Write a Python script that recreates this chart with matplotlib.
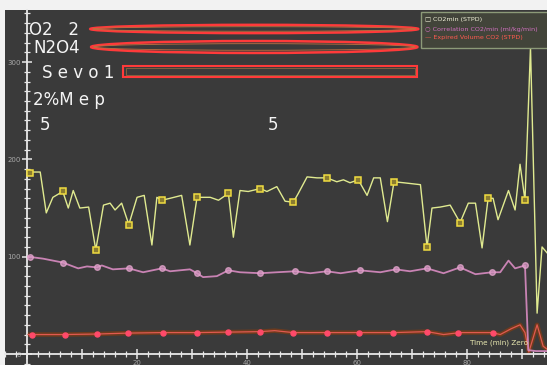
import matplotlib
matplotlib.use("Agg")
import matplotlib.pyplot as plt
from matplotlib.patches import Ellipse, Rectangle
from matplotlib.ticker import MultipleLocator, FuncFormatter

# ---------------- data ----------------
co2_t = [0.2, 2.4, 3.5, 4.7, 6.5, 7.5, 8.4, 9.6, 11.2, 12.5, 13.9, 15.1, 16.0, 17.2,
         18.5, 20.0, 21.3, 22.7, 23.6, 24.5, 26.0, 28.1, 29.6, 30.9, 33.3, 34.8,
         36.6, 37.5, 38.7, 40.2, 42.4, 43.6, 45.4, 46.9, 48.4, 49.3, 50.9, 52.7,
         54.5, 56.3, 57.5, 58.7, 60.2, 61.8, 63.0, 64.2, 65.5, 66.7, 68.4, 71.5,
         72.7, 73.6, 75.1, 76.9, 78.7, 80.2, 81.5, 82.7, 83.8, 84.7, 85.6, 87.5,
         88.7, 89.6, 90.5, 91.5, 92.7, 93.6, 94.5]
co2_v = [187, 187, 145, 161, 167, 150, 168, 150, 151, 107, 153, 155, 148, 155,
         133, 161, 163, 112, 161, 158, 160, 163, 112, 161, 161, 158,
         165, 120, 168, 167, 170, 167, 172, 157, 156, 165, 182, 181,
         181, 177, 179, 176, 179, 163, 181, 181, 136, 177, 176, 174,
         110, 150, 151, 153, 135, 155, 155, 109, 160, 160, 138, 168,
         148, 195, 158, 315, 42, 110, 104]
co2_mk_t = [0.5, 6.5, 12.5, 18.5, 24.5, 30.9, 36.6, 42.4, 48.4, 54.5, 60.2, 66.7,
            72.7, 78.7, 83.8, 90.5]
co2_mk_v = [186, 167, 107, 133, 158, 161, 165, 170, 156, 181, 179, 177,
            110, 135, 160, 158]

corr_t = [0.2, 2.9, 6.5, 9.3, 10.9, 12.7, 13.6, 15.6, 18.5, 21.1, 24.5, 26.0,
          29.6, 30.9, 32.0, 34.5, 36.6, 38.7, 42.4, 45.4, 48.7, 51.5, 54.5,
          57.0, 60.5, 64.2, 67.0, 69.6, 72.7, 75.7, 78.7, 81.5, 84.5, 86.0,
          87.5, 88.7, 90.5, 91.1, 92.5, 94.5]
corr_v = [100, 98, 94, 88, 90, 89, 91, 87, 88, 84, 88, 85,
          87, 83, 79, 80, 86, 84, 83, 84, 85, 83, 85,
          83, 86, 84, 87, 85, 88, 83, 89, 82, 84, 84,
          96, 88, 91, 4, 3, 3]
corr_mk_t = [0.5, 6.5, 12.7, 18.5, 24.5, 30.9, 36.6, 42.4, 48.7, 54.5, 60.5, 67.0,
             72.7, 78.7, 84.5, 90.5]
corr_mk_v = [100, 94, 89, 88, 88, 83, 86, 83, 85, 85, 86, 87,
             88, 89, 84, 91]

vco2_t = [0.2, 6.5, 12.5, 18.5, 24.5, 30.9, 36.6, 42.4, 45.0, 48.4, 54.5, 60.2,
          66.7, 72.7, 75.7, 78.7, 84.5, 86.0, 88.0, 89.6, 90.5, 91.2, 92.7,
          93.8, 94.5]
vco2_v = [20, 20, 20.5, 21.5, 22, 22, 22.5, 23, 24, 22, 22, 22,
          22, 23, 20, 22, 22, 20, 26, 30, 22, 2, 30,
          8, 5]
vco2_mk_t = [0.9, 6.9, 12.7, 18.4, 24.8, 30.9, 36.6, 42.4, 48.4, 54.5, 60.4, 66.5,
             72.7, 78.4, 84.7]
vco2_mk_v = [20, 20, 20.5, 21.5, 22, 22, 22.5, 23, 22, 22, 22, 22,
             23, 22, 22]

legend_labels = ["CO2min (STPD)", "Correlation CO2/min (ml/kg/min)",
                 "Expired Volume CO2 (STPD)"]
overlay_lines = ["O2   2", "N2O4", "S e v o 1", "2%M e p"]
x_tick_labels = [20, 40, 60, 80]

# ---------------- figure ----------------
W, H = 547, 365
fig = plt.figure(figsize=(W / 100, H / 100), dpi=100, facecolor="#f2f2f2")
bg = "#3a3a3a"
ax = fig.add_axes([5 / W, 0, 542 / W, 355 / H])
ax.set_facecolor(bg)
ax.set_xlim(-4.0, 94.5)
ax.set_ylim(-11.3, 353.5)

# series
ax.plot(vco2_t, vco2_v, color="#6e3a1e", lw=3.2, solid_capstyle="round", zorder=2)
ax.plot(vco2_t, vco2_v, color="#e05a50", lw=0.9, zorder=3)
ax.plot(vco2_mk_t, vco2_mk_v, ls="none", marker="o", ms=3.6,
        mfc="#ff4a6a", mec="#ff4a6a", zorder=4)

ax.plot(corr_t, corr_v, color="#c983b4", lw=1.3, zorder=3)
ax.plot(corr_mk_t, corr_mk_v, ls="none", marker="o", ms=4,
        mfc="#d897c4", mec="#e8a8d0", alpha=0.75, zorder=4)

ax.plot(co2_t, co2_v, color="#e0ea90", lw=1.0, zorder=5)
ax.plot(co2_mk_t, co2_mk_v, ls="none", marker="s", ms=4.2,
        mfc="#8a7c30", mec="#f0dc40", mew=1.1, zorder=6)

# axes styling
for s in ["top", "right"]:
    ax.spines[s].set_visible(False)
ax.spines["left"].set_position(("data", 0))
ax.spines["bottom"].set_position(("data", 0))
for s in ["left", "bottom"]:
    ax.spines[s].set_color("#e8e8e8")
    ax.spines[s].set_linewidth(1.3)

ax.yaxis.set_major_locator(MultipleLocator(100))
ax.yaxis.set_minor_locator(MultipleLocator(10))
ax.xaxis.set_major_locator(MultipleLocator(10))
ax.xaxis.set_minor_locator(MultipleLocator(2))
ax.xaxis.set_major_formatter(
    FuncFormatter(lambda v, p: f"{int(v)}" if int(round(v)) in x_tick_labels else ""))
ax.yaxis.set_major_formatter(FuncFormatter(lambda v, p: f"{int(v)}"))
ax.tick_params(which="major", direction="inout", length=7, width=1.1,
               color="#e8e8e8", labelcolor="#a8a8a8", labelsize=5, pad=1)
ax.tick_params(which="minor", direction="inout", length=4, width=0.9,
               color="#e8e8e8")

# overlay annotations (red ellipses / box)
ell_kw = dict(fill=False, zorder=7)
for (cx, cy, w, h) in [(41.3, 334, 59.6, 8.5), (41.3, 315.5, 59.3, 12.3)]:
    ax.add_patch(Ellipse((cx, cy), w, h, ec="#ff3a3a", lw=1.8, **ell_kw))
    ax.add_patch(Ellipse((cx, cy), w * 0.985, h * 0.55, ec="#c07040", lw=0.6, **ell_kw))
ax.add_patch(Rectangle((17.5, 284.7), 53.4, 11.3, ec="#ff3a3a", lw=1.5, **ell_kw))
ax.add_patch(Rectangle((17.9, 287.0), 52.6, 6.8, ec="#a07040", lw=0.5, **ell_kw))

def ftext(px, py, s, **kw):
    fig.text(px / W, 1 - py / H, s, **kw)

txt_kw = dict(color="#f4f4f4", fontsize=12, va="center", ha="left",
              family="DejaVu Sans")
ftext(29, 30, overlay_lines[0], **txt_kw)
ftext(33, 48, overlay_lines[1], **txt_kw)
ftext(42, 73, overlay_lines[2], **txt_kw)
ftext(33, 100, overlay_lines[3], **txt_kw)
ftext(40, 125, "5", **txt_kw)
ftext(268, 125, "5", **txt_kw)

# legend box (clipped at right edge)
leg = Rectangle((421 / W, 1 - 48 / H), 140 / W, 36 / H, transform=fig.transFigure,
                fc="#42443a", ec="#8c9a78", lw=1.0, zorder=8)
fig.patches.append(leg)
lk = dict(fontsize=4.6, va="center", ha="left", zorder=9)
ftext(425, 20, "\u25a1 " + legend_labels[0], color="#f0f0d8", **lk)
ftext(425, 29, "\u25cb " + legend_labels[1], color="#d070c0", **lk)
ftext(425, 38, "\u2014 " + legend_labels[2], color="#ff5a50", **lk)

# time label
ftext(470, 343, "Time (min) Zero", color="#e8e8b0", fontsize=5.2, va="center", ha="left")

fig.savefig("out.png", dpi=100, facecolor=fig.get_facecolor())
